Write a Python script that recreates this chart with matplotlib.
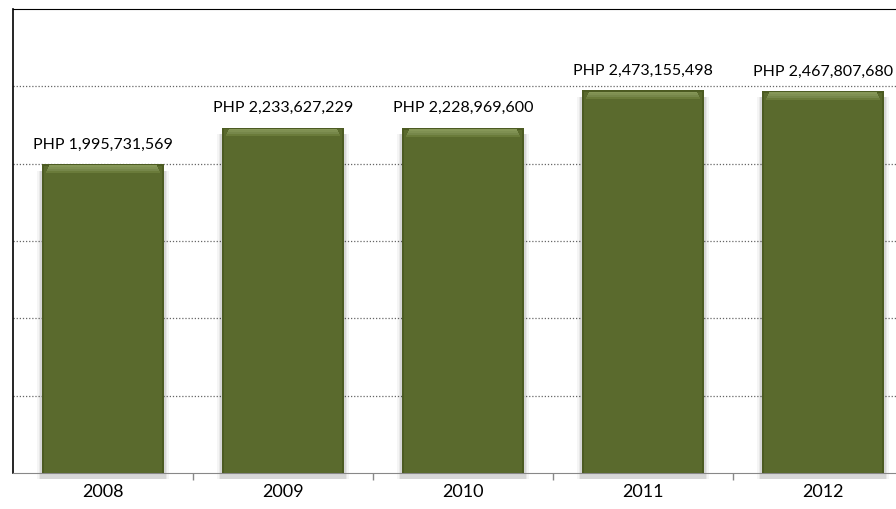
import matplotlib
matplotlib.use("Agg")
import matplotlib.pyplot as plt
import numpy as np

years = ["2008", "2009", "2010", "2011", "2012"]
budget = [1995731569, 2233627229, 2228969600, 2473155498, 2467807680]
labels = ["PHP 1,995,731,569", "PHP 2,233,627,229", "PHP 2,228,969,600",
          "PHP 2,473,155,498", "PHP 2,467,807,680"]

plt.rcParams["font.family"] = ["Lato", "DejaVu Sans"]

fig = plt.figure(figsize=(8.96, 5.10), dpi=100)
# plot area runs a little past the right edge of the figure
ax = fig.add_axes([13 / 896, 36 / 510, 900 / 896, 464 / 510])

x = np.arange(len(years))
vals = np.array(budget, dtype=float)
width = 0.68
face = "#5a6a2d"

# soft drop shadow under each bar
for dx, a in [(0.05, 0.04), (0.035, 0.05), (0.02, 0.07)]:
    ax.bar(x, vals, width=width + dx, bottom=-0.04e9,
           color="black", alpha=a, lw=0, zorder=2, clip_on=False)

# bar body with darker rim
ax.bar(x, vals, width=width, color="#4c5b22", lw=0, zorder=3)
ax.bar(x, vals - 0.01e9, width=width - 0.02, color=face, lw=0, zorder=4)

# bevelled highlight fading down from the top edge
bands = ["#6a7b3a", "#76874a", "#7f9052", "#869758"]
for i, c in enumerate(bands):
    inset = 0.022 + 0.006 * i
    ax.bar(x, [0.012e9] * len(x), bottom=vals - 0.055e9 + 0.012e9 * i,
           width=width - 2 * inset, color=c, lw=0, zorder=5 + i)

for xi, v, t in zip(x, vals, labels):
    ax.annotate(t, (xi, v), xytext=(0, 10), textcoords="offset points",
                ha="center", va="bottom", fontsize=11.5, color="black")

ax.set_xlim(-0.5, len(years) - 0.5)
ax.set_ylim(0, 3.0e9)
ax.set_yticks(np.arange(0.5e9, 3.0e9, 0.5e9))
ax.yaxis.grid(True, linestyle=(0, (1, 1.5)), color="#666666", lw=0.9)
ax.set_axisbelow(True)
ax.tick_params(axis="y", left=False, labelleft=False)

ax.set_xticks(x)
ax.set_xticklabels(years, fontsize=13)
ax.set_xticks(np.arange(0.5, len(years) - 0.5, 1.0), minor=True)
ax.tick_params(axis="x", which="major", length=0, pad=7)
ax.tick_params(axis="x", which="minor", length=5, color="#888888", width=1)

ax.spines["top"].set_color("black")
ax.spines["left"].set_color("black")
ax.spines["left"].set_linewidth(1.2)
ax.spines["bottom"].set_color("#888888")
ax.spines["right"].set_visible(False)

fig.savefig("out.png", dpi=100)
